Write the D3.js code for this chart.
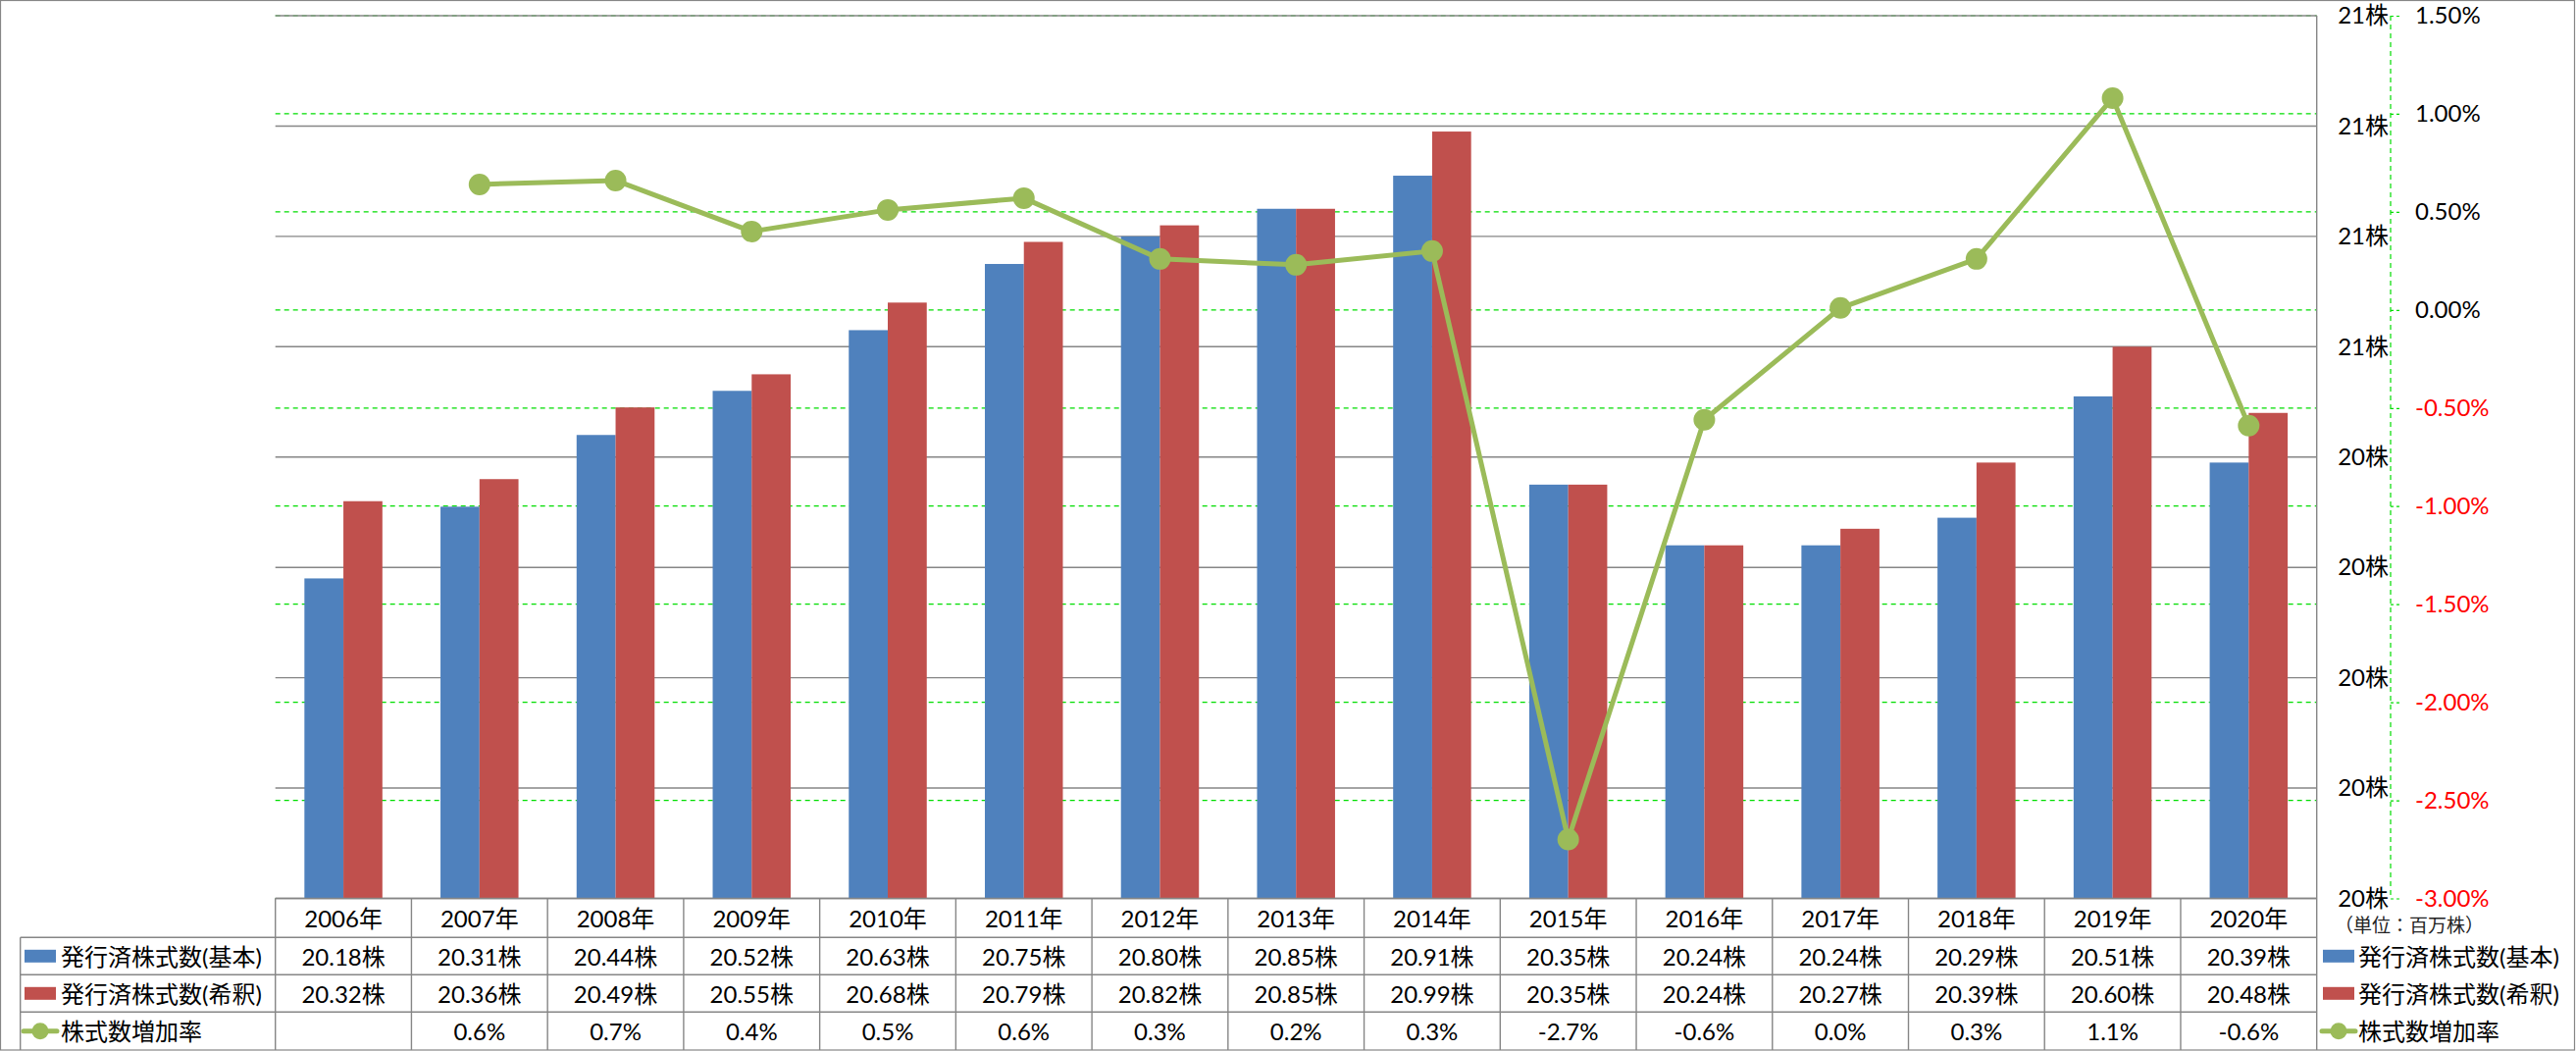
<!DOCTYPE html>
<html>
<head>
<meta charset="utf-8">
<script src="https://cdn.jsdelivr.net/npm/d3@7"></script>
<style>
html,body{margin:0;padding:0;background:#fff;}
svg{display:block;}
</style>
</head>
<body>
<script>
// ---- data ----
const years = ["2006年","2007年","2008年","2009年","2010年","2011年","2012年","2013年","2014年","2015年","2016年","2017年","2018年","2019年","2020年"];
const basic   = [20.18,20.31,20.44,20.52,20.63,20.75,20.80,20.85,20.91,20.35,20.24,20.24,20.29,20.51,20.39];
const diluted = [20.32,20.36,20.49,20.55,20.68,20.79,20.82,20.85,20.99,20.35,20.24,20.27,20.39,20.60,20.48];
const growth  = [null,0.64,0.66,0.40,0.51,0.57,0.26,0.23,0.30,-2.70,-0.56,0.01,0.26,1.08,-0.59];
const leftTicks  = [19.6,19.8,20.0,20.2,20.4,20.6,20.8,21.0,21.2];
const rightTicks = [-3.0,-2.5,-2.0,-1.5,-1.0,-0.5,0.0,0.5,1.0,1.5];
const seriesNames = ["発行済株式数(基本)","発行済株式数(希釈)","株式数増加率"];
const unitLabel = "（単位：百万株）";
const colors = ["#4f81bd","#c0504d","#9bbb59"];

// ---- layout ----
const W = 2626, H = 1071;
const X0 = 280.7, X1 = 2361.7, YT = 16, YB = 915.5;
const ROWS = [915.5, 955.3, 993.3, 1031.3, 1070];
const HDRX = 20.7;
const FONT = "Lato, 'Noto Sans CJK JP', sans-serif";
const GRAY = "#868686", GREEN = "#00dd00";

const svg = d3.select("body").append("svg")
  .attr("width", W).attr("height", H)
  .style("font-family", FONT);

const xCol = d3.scaleBand().domain(years).range([X0, X1]);
const x = d3.scaleBand().domain(years).range([X0, X1]).paddingInner(0.427).paddingOuter(0.2135);
const xs = d3.scaleBand().domain([0, 1]).range([0, x.bandwidth()]);
const yL = d3.scaleLinear().domain([19.6, 21.2]).range([YB, YT]);
const yR = d3.scaleLinear().domain([-3, 1.5]).range([YB, YT]);

// outer border
svg.append("rect").attr("x", 0.5).attr("y", 0.5).attr("width", W - 2).attr("height", 1069.5)
  .attr("fill", "none").attr("stroke", GRAY).attr("stroke-width", 1.2);

// green dashed gridlines (secondary)
svg.append("g").selectAll("line").data(rightTicks).join("line")
  .attr("x1", X0).attr("x2", X1)
  .attr("y1", d => yR(d)).attr("y2", d => yR(d))
  .attr("stroke", GREEN).attr("stroke-width", 1.2).attr("stroke-dasharray", "5,4");

// gray gridlines (primary)
svg.append("g").selectAll("line").data(leftTicks).join("line")
  .attr("x1", X0).attr("x2", X1)
  .attr("y1", d => yL(d)).attr("y2", d => yL(d))
  .attr("stroke", GRAY).attr("stroke-width", 1.4);

// bars
[basic, diluted].forEach((arr, si) => {
  svg.append("g").selectAll("rect").data(arr).join("rect")
    .attr("x", (d, i) => x(years[i]) + xs(si))
    .attr("width", xs.bandwidth())
    .attr("y", d => yL(d))
    .attr("height", d => YB - yL(d))
    .attr("fill", colors[si]);
});

// line
const cx = i => xCol(years[i]) + xCol.bandwidth() / 2;
const line = d3.line().defined(d => d != null).x((d, i) => cx(i)).y(d => yR(d));
svg.append("path").datum(growth).attr("d", line)
  .attr("fill", "none").attr("stroke", colors[2]).attr("stroke-width", 5)
  .attr("stroke-linejoin", "round");
svg.append("g").selectAll("circle").data(growth.map((v, i) => ({v, i})).filter(d => d.v != null)).join("circle")
  .attr("cx", d => cx(d.i)).attr("cy", d => yR(d.v)).attr("r", 11).attr("fill", colors[2]);

// primary value axis line (at right)
svg.append("line").attr("x1", X1).attr("x2", X1).attr("y1", YT).attr("y2", 1070)
  .attr("stroke", GRAY).attr("stroke-width", 1.4);

// left-axis labels (placed at right)
const axL = svg.append("g").attr("transform", "translate(2437,0)")
  .call(d3.axisLeft(yL).tickValues(leftTicks).tickSize(0).tickPadding(2)
    .tickFormat(d => Math.round(d) + "株"));
axL.select(".domain").remove();
axL.selectAll("text").attr("font-size", 24).attr("font-family", FONT).attr("fill", "#000");

// secondary axis
const axR = svg.append("g").attr("transform", "translate(2437,0)")
  .call(d3.axisRight(yR).tickValues(rightTicks).tickSize(10).tickPadding(15)
    .tickFormat(d => d.toFixed(2) + "%"));
axR.select(".domain").attr("stroke", GREEN).attr("stroke-width", 1.2).attr("stroke-dasharray", "5,4")
  .attr("d", `M0,${YT}V${YB}`);
axR.selectAll(".tick line").attr("stroke", GREEN).attr("stroke-width", 1.2).attr("stroke-dasharray", "3,3");
axR.selectAll("text").attr("font-size", 24).attr("font-family", FONT)
  .attr("fill", d => d < 0 ? "#ff0000" : "#000");

// ---- data table ----
const tl = svg.append("g").attr("stroke", GRAY).attr("stroke-width", 1.4);
tl.append("line").attr("x1", X0).attr("x2", X1).attr("y1", ROWS[0]).attr("y2", ROWS[0]);
ROWS.slice(1, 4).forEach(r => tl.append("line").attr("x1", HDRX).attr("x2", X1).attr("y1", r).attr("y2", r));
tl.append("line").attr("x1", HDRX).attr("x2", HDRX).attr("y1", ROWS[1]).attr("y2", ROWS[4]);
years.forEach(yr => tl.append("line").attr("x1", xCol(yr)).attr("x2", xCol(yr)).attr("y1", ROWS[0]).attr("y2", ROWS[4]));

const mid = k => (ROWS[k] + ROWS[k + 1]) / 2;
const cellText = (arr, k, fmt) => svg.append("g").selectAll("text").data(arr).join("text")
  .attr("x", (d, i) => cx(i)).attr("y", mid(k))
  .attr("text-anchor", "middle").attr("dominant-baseline", "central")
  .attr("font-size", 24).attr("fill", "#000")
  .text(fmt);
cellText(years, 0, d => d);
cellText(basic, 1, d => d.toFixed(2) + "株");
cellText(diluted, 2, d => d.toFixed(2) + "株");
cellText(growth, 3, d => d == null ? "" : d.toFixed(1) + "%");

// legend keys (row headers and right legend)
function key(xk, yc, si) {
  if (si < 2) {
    svg.append("rect").attr("x", xk).attr("y", yc - 6.5).attr("width", 32).attr("height", 13).attr("fill", colors[si]);
  } else {
    svg.append("line").attr("x1", xk - 1).attr("x2", xk + 33).attr("y1", yc).attr("y2", yc)
      .attr("stroke", colors[2]).attr("stroke-width", 5).attr("stroke-linecap", "round");
    svg.append("circle").attr("cx", xk + 16).attr("cy", yc).attr("r", 8.5).attr("fill", colors[2]);
  }
}
seriesNames.forEach((name, si) => {
  const yc = mid(si + 1);
  key(25, yc, si);
  svg.append("text").attr("x", 62).attr("y", yc).attr("dominant-baseline", "central")
    .attr("font-size", 24).attr("fill", "#000").text(name);
  key(2368, yc, si);
  svg.append("text").attr("x", 2404).attr("y", yc).attr("dominant-baseline", "central")
    .attr("font-size", 24).attr("fill", "#000").text(name);
});

svg.append("text").attr("x", 2380).attr("y", 942).attr("dominant-baseline", "central")
  .attr("font-size", 19).attr("fill", "#222").text(unitLabel);
</script>
</body>
</html>
